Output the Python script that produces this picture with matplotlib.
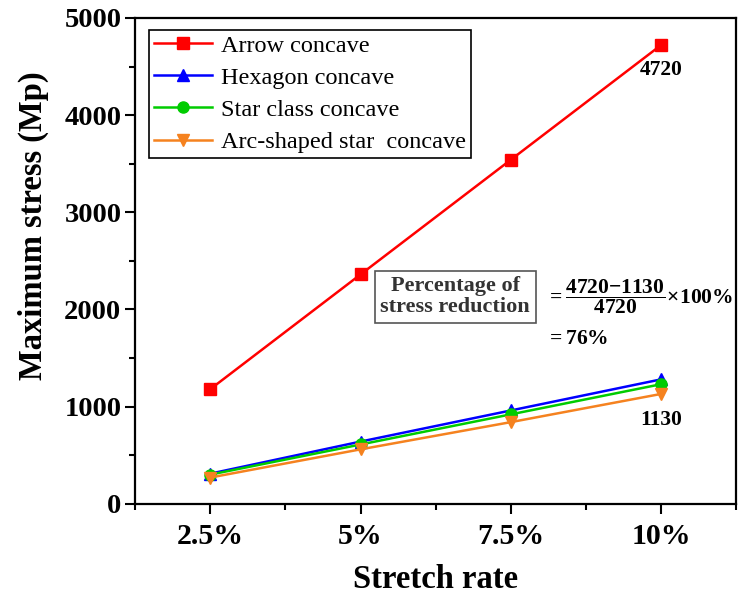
import matplotlib
matplotlib.use("Agg")
import matplotlib.pyplot as plt
from matplotlib.ticker import FixedLocator

plt.rcParams['font.family'] = ['Liberation Serif', 'DejaVu Serif']
plt.rcParams['mathtext.fontset'] = 'custom'
plt.rcParams['mathtext.rm'] = 'Liberation Serif:bold'
plt.rcParams['mathtext.bf'] = 'Liberation Serif:bold'
plt.rcParams['mathtext.it'] = 'Liberation Serif:bold'

categories = ['2.5%', '5%', '7.5%', '10%']
arrow = [1180, 2360, 3540, 4720]
hexagon = [310, 640, 960, 1280]
star = [300, 610, 920, 1230]
arc_star = [270, 560, 840, 1130]

series = [
    ('Arrow concave', arrow, '#ff0000', 's'),
    ('Hexagon concave', hexagon, '#0000ff', '^'),
    ('Star class concave', star, '#00cc00', 'o'),
    ('Arc-shaped star  concave', arc_star, '#f5821f', 'v'),
]

fig = plt.figure(figsize=(7.39, 5.99), dpi=100)
ax = fig.add_axes([0.183, 0.159, 0.813, 0.811])

x = list(range(1, len(categories) + 1))
for label, vals, color, marker in series:
    ax.plot(x, vals, color=color, marker=marker, markersize=8, linewidth=1.8, label=label)

ax.set_xlim(0.5, 4.5)
ax.set_ylim(0, 5000)
ax.set_xticks(x)
ax.set_xticklabels(categories, fontsize=21.5, fontweight='bold')
ax.xaxis.set_minor_locator(FixedLocator([0.5, 1.5, 2.5, 3.5, 4.5]))
ax.set_yticks([0, 1000, 2000, 3000, 4000, 5000])
ax.yaxis.set_minor_locator(FixedLocator([500, 1500, 2500, 3500, 4500]))
for t in ax.get_yticklabels():
    t.set_fontsize(20.5)
    t.set_fontweight('bold')
ax.tick_params(axis='both', which='major', direction='out', length=7, width=1.5, pad=3)
ax.tick_params(axis='both', which='minor', direction='out', length=4, width=1.5)
ax.tick_params(axis='x', which='major', pad=7)
for sp in ax.spines.values():
    sp.set_linewidth(1.6)

ax.set_xlabel('Stretch rate', fontsize=23.5, fontweight='bold', labelpad=10)
ax.set_ylabel('Maximum stress (Mp)', fontsize=23.5, fontweight='bold')
ax.yaxis.set_label_coords(-0.143, 0.572)

leg = ax.legend(loc='upper left', bbox_to_anchor=(0.023, 0.976), fontsize=17.5,
                frameon=True, fancybox=False, edgecolor='black', framealpha=1,
                borderpad=0.2, labelspacing=0.42, handlelength=2.4, handletextpad=0.35,
                borderaxespad=0)
leg.get_frame().set_linewidth(1.2)

ax.text(4.0, 4460, '4720', ha='center', va='center', fontsize=15.5, fontweight='bold')
ax.text(4.0, 860, '1130', ha='center', va='center', fontsize=15.5, fontweight='bold')

ax.text(2.63, 2130, 'Percentage of\nstress reduction', ha='center', va='center',
        fontsize=16, fontweight='bold', color='#333333', linespacing=1.05,
        bbox=dict(boxstyle='square,pad=0.25', facecolor='white', edgecolor='#555555', linewidth=1.2))
ax.text(3.235, 2130, r'$=\dfrac{4720\mathrm{-}1130}{4720}\!\times\! 100\%$', ha='left', va='center',
        fontsize=15.5)
ax.text(3.235, 1690, r'$= 76\%$', ha='left', va='center', fontsize=15.5)

fig.savefig('out.png', dpi=100)
